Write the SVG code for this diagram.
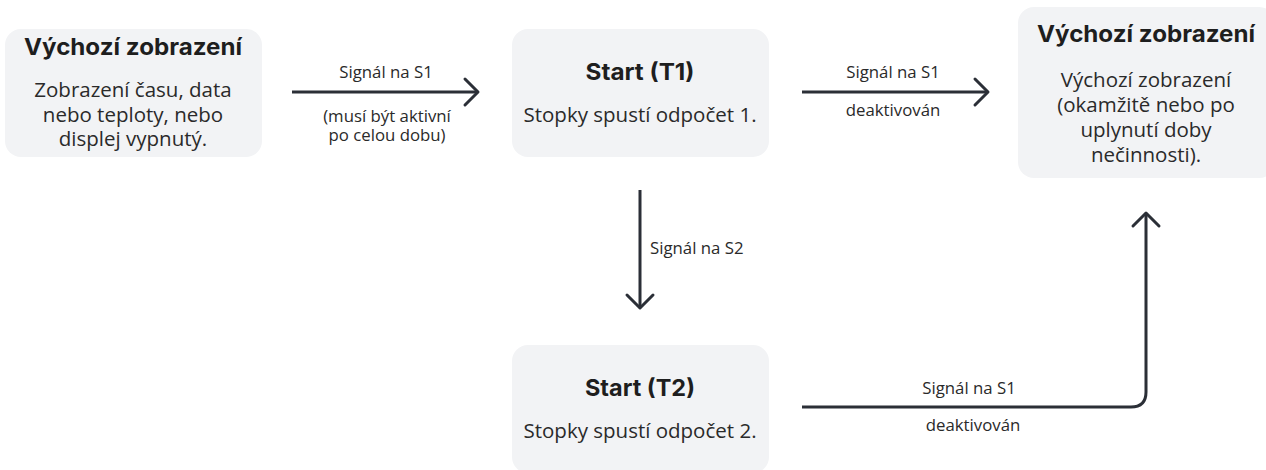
<svg xmlns="http://www.w3.org/2000/svg" width="1266" height="470" viewBox="0 0 1266 470">
  <style>
    .box { fill: #f2f3f5; }
    .title { font-family: Inter, "Liberation Sans", sans-serif; font-weight: 700; font-size: 23px; fill: #1e1e1e; text-anchor: middle; }
    .body { font-family: "Open Sans", "Liberation Sans", sans-serif; font-size: 20.5px; fill: #2a2a2a; text-anchor: middle; }
    .lbl { font-family: "Open Sans", "Liberation Sans", sans-serif; font-size: 16.8px; fill: #2a2a2a; text-anchor: middle; }
    .lbl-start { font-family: "Open Sans", "Liberation Sans", sans-serif; font-size: 16.8px; fill: #2a2a2a; text-anchor: start; }
    .conn { fill: none; stroke: #2b2f37; stroke-width: 3; }
  </style>
  <defs>
    <marker id="arr" markerUnits="userSpaceOnUse" viewBox="0 0 20 32" markerWidth="20" markerHeight="32" refX="16" refY="16" orient="auto">
      <path d="M3,3 L16,16 L3,29" fill="none" stroke="#2b2f37" stroke-width="3" stroke-linecap="round" stroke-linejoin="round"/>
    </marker>
  </defs>
  <rect width="1266" height="470" fill="#ffffff"/>

  <g id="node-default-left">
    <rect class="box" x="5" y="29" width="257" height="128" rx="16"/>
    <text class="title" x="133" y="55" textLength="218" lengthAdjust="spacingAndGlyphs">Výchozí zobrazení</text>
    <text class="body" x="133" y="97">Zobrazení času, data</text>
    <text class="body" x="133" y="122">nebo teploty, nebo</text>
    <text class="body" x="133" y="146">displej vypnutý.</text>
  </g>

  <g id="node-start-t1">
    <rect class="box" x="512" y="29" width="257" height="128" rx="16"/>
    <text class="title" x="640" y="80" textLength="109" lengthAdjust="spacingAndGlyphs">Start (T1)</text>
    <text class="body" x="640" y="122">Stopky spustí odpočet 1.</text>
  </g>

  <g id="node-default-right">
    <rect class="box" x="1018" y="7" width="257" height="171" rx="16"/>
    <text class="title" x="1146" y="42" textLength="218" lengthAdjust="spacingAndGlyphs">Výchozí zobrazení</text>
    <text class="body" x="1146" y="87">Výchozí zobrazení</text>
    <text class="body" x="1146" y="112">(okamžitě nebo po</text>
    <text class="body" x="1146" y="137">uplynutí doby</text>
    <text class="body" x="1146" y="162">nečinnosti).</text>
  </g>

  <g id="node-start-t2">
    <rect class="box" x="512" y="345" width="257" height="128" rx="16"/>
    <text class="title" x="640" y="396" textLength="110" lengthAdjust="spacingAndGlyphs">Start (T2)</text>
    <text class="body" x="640" y="438">Stopky spustí odpočet 2.</text>
  </g>

  <g id="connectors">
    <path class="conn" d="M292,92 L478,92" marker-end="url(#arr)"/>
    <text class="lbl" x="386" y="78">Signál na S1</text>
    <text class="lbl" x="387" y="122">(musí být aktivní</text>
    <text class="lbl" x="387" y="141">po celou dobu)</text>

    <path class="conn" d="M802,92 L988,92" marker-end="url(#arr)"/>
    <text class="lbl" x="893" y="78">Signál na S1</text>
    <text class="lbl" x="893" y="116">deaktivován</text>

    <path class="conn" d="M640,190 L640,308" marker-end="url(#arr)"/>
    <text class="lbl-start" x="650" y="254">Signál na S2</text>

    <path class="conn" d="M802,407 L1131,407 Q1146,407 1146,392 L1146,213" marker-end="url(#arr)"/>
    <text class="lbl" x="969" y="394">Signál na S1</text>
    <text class="lbl" x="973" y="431">deaktivován</text>
  </g>
</svg>
